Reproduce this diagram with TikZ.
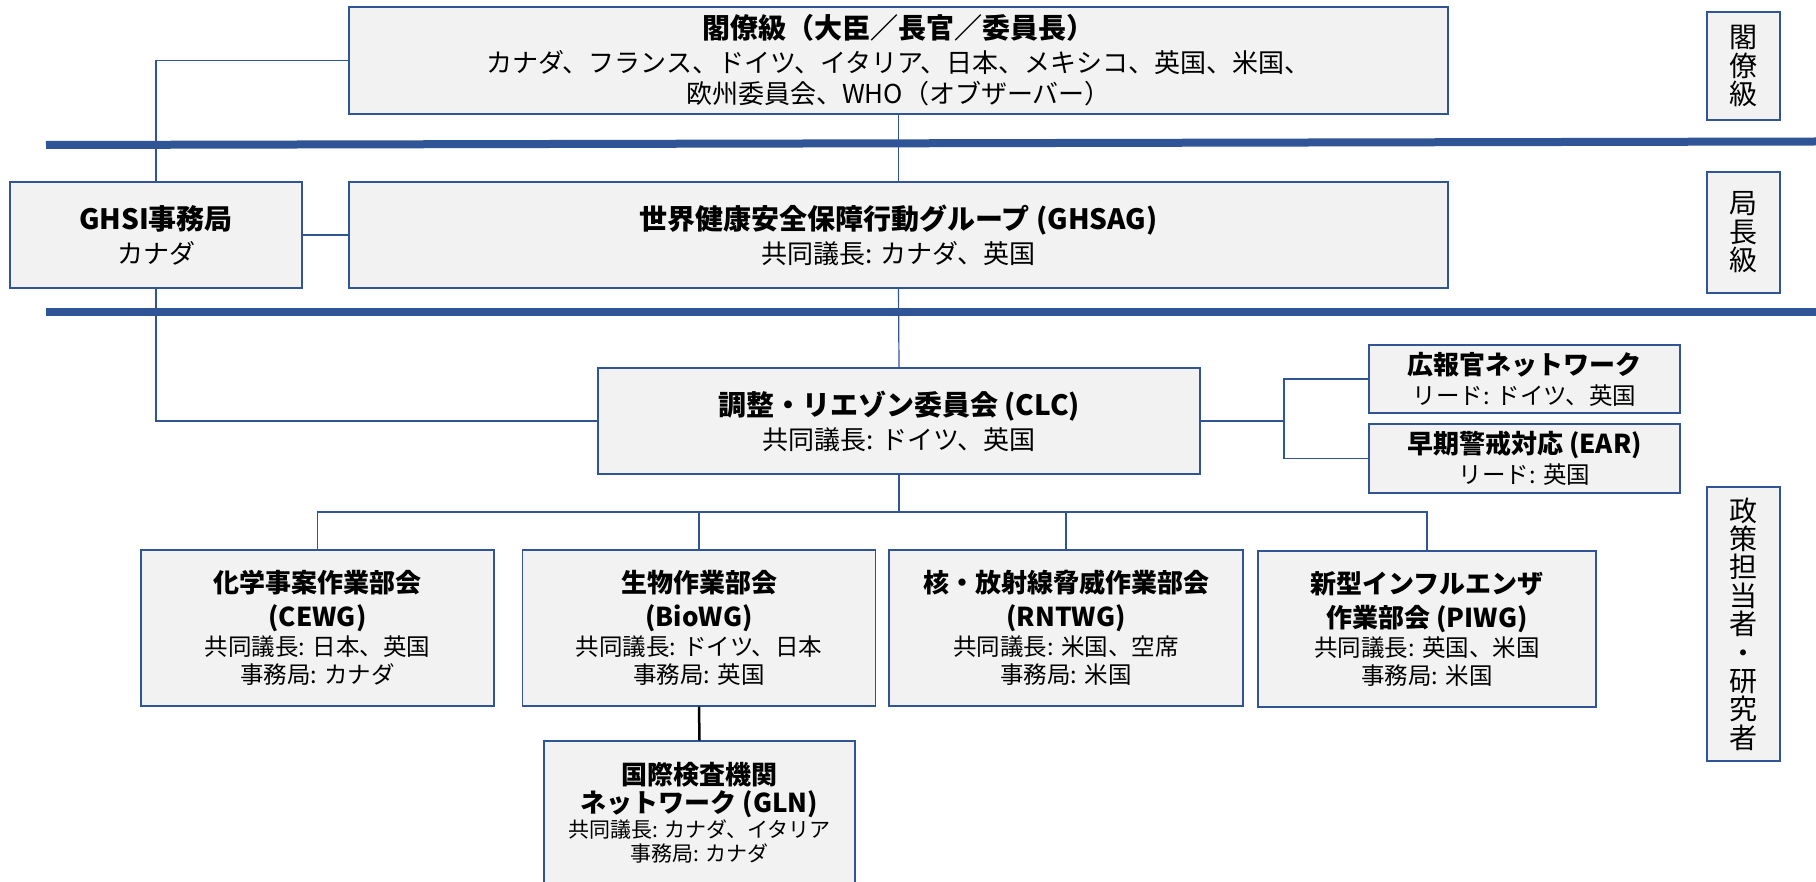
\documentclass[tikz,border=0pt]{standalone}
\usepackage{fontspec}
\setmainfont{Noto Sans CJK JP}
\usepackage{tikz}
\usetikzlibrary{positioning}
\usepackage{xcolor}
\definecolor{ghsblue}{HTML}{2F5597}
\definecolor{boxgray}{HTML}{F2F2F2}

\tikzset{
  box/.style={draw=ghsblue, fill=boxgray, line width=1.4pt, align=center, inner sep=0pt},
  bigbox/.style={box, font=\fontsize{26}{31}\selectfont},
  wgbox/.style={box, font=\fontsize{23.5}{28}\selectfont, minimum width=353pt, minimum height=156pt},
  sidebox/.style={box, font=\fontsize{28}{28.4}\selectfont, minimum width=73pt},
  link/.style={draw=ghsblue, line width=1.2pt},
  tier/.style={draw=ghsblue, line width=8pt}
}
\newcommand{\ttl}[1]{{\bfseries\fontsize{28}{31}\selectfont #1}}
\newcommand{\wgttl}[1]{{\bfseries\fontsize{26}{28}\selectfont #1}}

\begin{document}
\begin{tikzpicture}[x=1pt, y=-1pt]
\useasboundingbox (0,0) rectangle (1816,882);

% Cabinet and senior officials
\node[bigbox, minimum width=1099pt, minimum height=107pt] (minis) at (898.5,60.5)
  {\ttl{閣僚級（大臣／長官／委員長）}\\[3pt]
   カナダ、フランス、ドイツ、イタリア、日本、メキシコ、英国、米国、\\
   欧州委員会、WHO（オブザーバー）};
\node[bigbox, minimum width=1099pt, minimum height=106pt] (ghsag) at (898.5,235)
  {\ttl{世界健康安全保障行動グループ (GHSAG)}\\[3pt] 共同議長: カナダ、英国};
\node[bigbox, minimum width=292pt, minimum height=106pt] (ghsi) at (156,235)
  {\ttl{GHSI事務局}\\[3pt] カナダ};
\node[bigbox, minimum width=602pt, minimum height=106pt] (clc) at (899,421)
  {\ttl{調整・リエゾン委員会 (CLC)}\\[3pt] 共同議長: ドイツ、英国};

% Networks beside the CLC
\node[box, font=\fontsize{23.5}{28}\selectfont, minimum width=311pt, minimum height=68pt] (press) at (1524.5,379)
  {\wgttl{広報官ネットワーク}\\[2pt] リード: ドイツ、英国};
\node[box, font=\fontsize{23.5}{28}\selectfont, minimum width=311pt, minimum height=69pt] (ear) at (1524.5,458.5)
  {\wgttl{早期警戒対応 (EAR)}\\[2pt] リード: 英国};

% Working groups
\node[wgbox] (cewg) at (317.5,628)
  {\wgttl{化学事案作業部会}\\[6pt] \wgttl{(CEWG)}\\[1pt] 共同議長: 日本、英国\\ 事務局: カナダ};
\node[wgbox] (biowg) at (699,628)
  {\wgttl{生物作業部会}\\[6pt] \wgttl{(BioWG)}\\[1pt] 共同議長: ドイツ、日本\\ 事務局: 英国};
\node[wgbox, minimum width=354pt] (rntwg) at (1066,628)
  {\wgttl{核・放射線脅威作業部会}\\[6pt] \wgttl{(RNTWG)}\\[1pt] 共同議長: 米国、空席\\ 事務局: 米国};
\node[wgbox, minimum width=338pt] (piwg) at (1427,629)
  {\wgttl{新型インフルエンザ}\\[6pt] \wgttl{作業部会 (PIWG)}\\[1pt] 共同議長: 英国、米国\\ 事務局: 米国};
\node[box, font=\fontsize{21}{24}\selectfont, minimum width=311pt, minimum height=144pt] (gln) at (699.5,813)
  {\wgttl{国際検査機関}\\[3pt] \wgttl{ネットワーク (GLN)}\\[1pt] 共同議長: カナダ、イタリア\\ 事務局: カナダ};

% Level labels
\node[sidebox, minimum height=108pt] (lab1) at (1743.5,66) {閣\\僚\\級};
\node[sidebox, minimum height=121pt] (lab2) at (1743.5,232.5) {局\\長\\級};
\node[sidebox, minimum height=274pt] (lab3) at (1743.5,624) {政\\策\\担\\当\\者\\・\\研\\究\\者};

% Connectors
\draw[link] (minis.west) -| (ghsi.north);
\draw[link] (ghsi.east) -- (ghsag.west);
\draw[link] (ghsi.south) |- (clc.west);
\draw[link] (minis.south) -- (ghsag.north);
\draw[link] (ghsag.south) -- (clc.north);
\coordinate (split) at (1284,421);
\draw[link] (clc.east) -- (split);
\draw[link] (press.west) -| (split) |- (ear.west);
\coordinate (bus) at (899,512);
\draw[link] (clc.south) -- (bus);
\foreach \wg in {cewg,biowg,rntwg,piwg}
  \draw[link] (bus) -| (\wg.north);
\draw[black, line width=2.5pt] (biowg.south) -- (gln.north);

% Level separators
\draw[tier] (46,145) -- (1816,141.5);
\draw[tier] (46,312) -- (1816,312);
\end{tikzpicture}
\end{document}
